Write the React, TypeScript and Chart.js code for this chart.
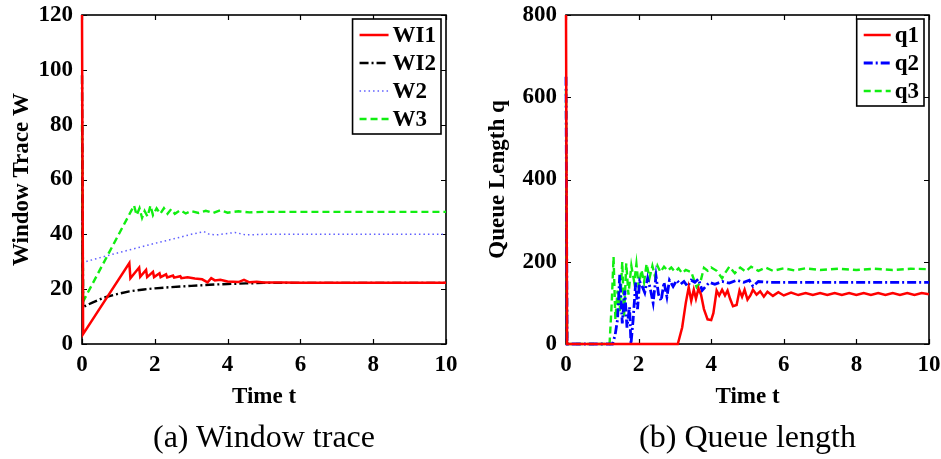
import { useEffect, useRef } from "react";
import { Chart, registerables } from "chart.js";

Chart.register(...registerables);

const FONT = "'Liberation Serif', 'Times New Roman', Times, serif";

// ---------- (a) Window trace ----------
const tWI1 = [0, 0.03, 1.3, 1.33, 1.57, 1.6, 1.76, 1.79, 1.95, 1.98, 2.13, 2.16, 2.31, 2.34, 2.5, 2.53, 2.7, 2.73, 2.9, 3.1, 3.3, 3.45, 3.55, 3.65, 3.8, 4.0, 4.3, 4.45, 4.6, 4.8, 5.0, 5.5, 6, 7, 8, 9, 10];
const WI1 = [120, 3.6, 29.5, 24.0, 27.9, 24.5, 27.0, 24.4, 26.3, 24.4, 25.8, 24.4, 25.4, 24.3, 25.0, 24.2, 24.7, 24.0, 24.3, 23.9, 23.6, 22.5, 24.0, 23.2, 23.4, 22.8, 22.6, 23.4, 22.5, 22.7, 22.4, 22.4, 22.3, 22.3, 22.3, 22.3, 22.3];

const tWI2 = [0, 0.03, 0.3, 0.6, 0.9, 1.3, 1.7, 2.0, 2.4, 3.0, 3.5, 4.0, 4.5, 5, 6, 10];
const WI2 = [98, 13.5, 15.2, 16.9, 18.0, 19.2, 19.9, 20.3, 20.7, 21.2, 21.6, 21.9, 22.1, 22.3, 22.3, 22.3];

const tW2 = [0, 0.03, 0.5, 1.0, 1.5, 2.0, 2.5, 3.0, 3.35, 3.5, 3.7, 4.0, 4.2, 4.5, 5, 6, 7, 8, 9, 10];
const W2 = [45, 29.8, 31.5, 33.3, 35.0, 36.7, 38.3, 40.0, 41.0, 40.0, 39.8, 40.3, 40.7, 39.8, 40.0, 40.0, 40.0, 40.0, 40.0, 40.0];

const tW3 = [0, 0.03, 1.43, 1.5, 1.58, 1.65, 1.72, 1.8, 1.88, 1.95, 2.05, 2.15, 2.25, 2.35, 2.45, 2.55, 2.7, 2.85, 3.0, 3.2, 3.4, 3.6, 3.8, 4.0, 4.3, 4.6, 5, 6, 7, 8, 9, 10];
const W3 = [80, 15.5, 50.5, 47, 49.5, 46, 48.5, 46.5, 50.5, 47, 49.5, 47.5, 49.5, 47.5, 49.2, 47.5, 48.8, 47.6, 48.5, 47.8, 48.6, 47.8, 48.8, 47.9, 48.4, 48.0, 48.2, 48.2, 48.2, 48.2, 48.2, 48.2];

// ---------- (b) Queue length ----------
const tQ1 = [0, 0.03, 3.08, 3.2, 3.3, 3.38, 3.45, 3.52, 3.58, 3.65, 3.72, 3.8, 3.9, 4.0, 4.06, 4.15, 4.22, 4.3, 4.38, 4.45, 4.52, 4.6, 4.7, 4.78, 4.85, 4.92, 5.0, 5.08, 5.15, 5.25, 5.35, 5.45, 5.55, 5.7, 5.85, 6.0, 6.2, 6.4, 6.6, 6.8, 7.0, 7.2, 7.4, 7.6, 7.8, 8.0, 8.2, 8.4, 8.6, 8.8, 9.0, 9.2, 9.4, 9.6, 9.8, 10];
const Q1 = [800, 0, 0, 40, 100, 138, 105, 132, 110, 135, 120, 85, 60, 58, 75, 130, 118, 132, 118, 130, 110, 92, 95, 130, 115, 132, 108, 118, 132, 120, 128, 115, 127, 117, 126, 118, 125, 119, 124, 119, 124, 119, 124, 119, 124, 119, 124, 119, 124, 119, 124, 119, 124, 119, 124, 121];

const tQ2 = [0, 0.03, 1.28, 1.35, 1.42, 1.48, 1.55, 1.62, 1.68, 1.75, 1.79, 1.85, 1.92, 1.97, 2.03, 2.1, 2.17, 2.25, 2.32, 2.4, 2.48, 2.55, 2.62, 2.7, 2.78, 2.85, 2.95, 3.05, 3.15, 3.25, 3.35, 3.45, 3.55, 3.65, 3.75, 3.85, 3.95, 4.1, 4.3, 4.5, 4.7, 4.9, 5.05, 5.15, 5.3, 5.6, 6, 7, 8, 9, 10];
const Q2 = [650, 0, 0, 20, 60, 168, 50, 130, 40, 90, 0, 60, 150, 85, 152, 140, 125, 160, 135, 100, 165, 120, 105, 150, 115, 155, 140, 155, 145, 152, 140, 155, 150, 158, 130, 140, 150, 145, 152, 148, 155, 150, 155, 140, 152, 150, 150, 150, 150, 150, 150];

const tQ3 = [0, 0.03, 1.2, 1.26, 1.31, 1.36, 1.42, 1.48, 1.55, 1.6, 1.66, 1.72, 1.8, 1.88, 1.94, 2.0, 2.08, 2.15, 2.22, 2.3, 2.38, 2.45, 2.52, 2.6, 2.7, 2.8, 2.9, 3.0, 3.1, 3.2, 3.3, 3.45, 3.6, 3.7, 3.8, 3.9, 4.0, 4.15, 4.3, 4.4, 4.5, 4.65, 4.8, 4.95, 5.1, 5.3, 5.5, 5.7, 6.0, 6.3, 6.6, 7, 7.5, 8, 8.5, 9, 9.5, 10];
const Q3 = [620, 0, 0, 100, 212, 60, 130, 80, 200, 65, 196, 120, 190, 150, 195, 140, 180, 150, 195, 160, 190, 165, 190, 175, 188, 178, 186, 176, 184, 172, 180, 175, 138, 150, 185, 178, 186, 178, 160, 175, 188, 172, 186, 176, 188, 178, 186, 178, 184, 179, 184, 180, 183, 180, 183, 180, 183, 182];

// ---------- ticks & labels ----------
const timeTicks = [0, 2, 4, 6, 8, 10];
const windowTicks = [0, 20, 40, 60, 80, 100, 120];
const queueTicks = [0, 200, 400, 600, 800];

function pts(t: number[], v: number[]) {
  return t.map((x, i) => ({ x, y: v[i] }));
}

const boldFont = { family: FONT, size: 23, weight: "bold" as const };

const framePlugin = {
  id: "matlabFrame",
  beforeDatasetsDraw(chart: any) {
    const { ctx, chartArea } = chart;
    const { left, right, top, bottom } = chartArea;
    const sx = chart.scales.x;
    const sy = chart.scales.y;
    ctx.save();
    ctx.strokeStyle = "#000";
    ctx.lineWidth = 1.2;
    ctx.setLineDash([]);
    const tl = 5;
    ctx.beginPath();
    sx.ticks.forEach((tk: any) => {
      const px = Math.round(sx.getPixelForValue(tk.value)) + 0.5;
      ctx.moveTo(px, bottom);
      ctx.lineTo(px, bottom - tl);
      ctx.moveTo(px, top);
      ctx.lineTo(px, top + tl);
    });
    sy.ticks.forEach((tk: any) => {
      const py = Math.round(sy.getPixelForValue(tk.value)) + 0.5;
      ctx.moveTo(left, py);
      ctx.lineTo(left + tl, py);
      ctx.moveTo(right, py);
      ctx.lineTo(right - tl, py);
    });
    ctx.stroke();
    ctx.lineWidth = 1.6;
    ctx.strokeRect(left, top, right - left, bottom - top);
    ctx.restore();
  },
  afterDatasetsDraw(chart: any, _args: any, opts: any) {
    const { ctx, chartArea } = chart;
    const { right, top } = chartArea;
    ctx.save();
    const ds = chart.data.datasets;
    ctx.font = `bold 23px ${FONT}`;
    let maxW = 0;
    ds.forEach((d: any) => {
      maxW = Math.max(maxW, ctx.measureText(d.label).width);
    });
    const padL = 7, lineLen = opts.lineLen, gap = 4, padR = 5, rowH = 28;
    const w = padL + lineLen + gap + maxW + padR;
    const h = ds.length * rowH + 3;
    const bx = right - 5 - w;
    const by = top + 4;
    ctx.fillStyle = "#fff";
    ctx.fillRect(bx, by, w, h);
    ctx.lineWidth = 1.6;
    ctx.strokeStyle = "#000";
    ctx.setLineDash([]);
    ctx.strokeRect(bx, by, w, h);
    ds.forEach((d: any, i: number) => {
      const cy = by + 2 + rowH / 2 + i * rowH;
      ctx.beginPath();
      ctx.strokeStyle = d.borderColor;
      ctx.lineWidth = d.borderWidth;
      ctx.setLineDash(d.borderDash || []);
      ctx.moveTo(bx + padL, cy);
      ctx.lineTo(bx + padL + lineLen, cy);
      ctx.stroke();
      ctx.setLineDash([]);
      ctx.fillStyle = "#000";
      ctx.textBaseline = "middle";
      ctx.textAlign = "left";
      ctx.fillText(d.label, bx + padL + lineLen + gap, cy + 1);
    });
    ctx.restore();
  },
};

function makeOptions(cfg: {
  yMax: number;
  yTicks: number[];
  yTitle: string;
  yWidth: number;
  yTitlePad: number;
  padRight: number;
  lineLen: number;
}) {
  return {
    responsive: false,
    animation: false as const,
    devicePixelRatio: 1,
    layout: { padding: { left: 0, right: cfg.padRight, top: 15, bottom: 0 } },
    elements: { point: { radius: 0 }, line: { tension: 0 } },
    datasets: { line: { clip: 3 } },
    plugins: {
      legend: { display: false },
      tooltip: { enabled: false },
      matlabFrame: { lineLen: cfg.lineLen },
    },
    scales: {
      x: {
        type: "linear" as const,
        min: 0,
        max: 10,
        afterBuildTicks(s: any) {
          s.ticks = timeTicks.map((v) => ({ value: v }));
        },
        afterFit(s: any) {
          s.height = 76;
          s.paddingLeft = 0;
          s.paddingRight = 0;
        },
        grid: { display: false, drawTicks: false },
        border: { display: false },
        ticks: { font: boldFont, color: "#000", padding: 7, maxRotation: 0, autoSkip: false },
        title: { display: true, text: "Time t", font: boldFont, color: "#000", padding: { top: 0, bottom: 9 } },
      },
      y: {
        type: "linear" as const,
        min: 0,
        max: cfg.yMax,
        afterBuildTicks(s: any) {
          s.ticks = cfg.yTicks.map((v) => ({ value: v }));
        },
        afterFit(s: any) {
          s.width = cfg.yWidth;
          s.paddingTop = 0;
          s.paddingBottom = 0;
        },
        grid: { display: false, drawTicks: false },
        border: { display: false },
        ticks: { font: boldFont, color: "#000", padding: 9, autoSkip: false },
        title: { display: true, text: cfg.yTitle, font: boldFont, color: "#000", padding: { top: cfg.yTitlePad, bottom: 0 } },
      },
    },
  };
}

function WindowChart() {
  const ref = useRef<HTMLCanvasElement>(null);
  useEffect(() => {
    const chart = new Chart(ref.current!, {
      type: "line",
      data: {
        datasets: [
          { label: "WI1", data: pts(tWI1, WI1), borderColor: "#ff0000", borderWidth: 2.5, borderDash: [] },
          { label: "WI2", data: pts(tWI2, WI2), borderColor: "#000000", borderWidth: 2.4, borderDash: [9, 3, 2, 3] },
          { label: "W2", data: pts(tW2, W2), borderColor: "#5f5fff", borderWidth: 1.5, borderDash: [1.5, 3] },
          { label: "W3", data: pts(tW3, W3), borderColor: "#11ee11", borderWidth: 2.4, borderDash: [7, 4] },
        ],
      },
      options: makeOptions({
        yMax: 120,
        yTicks: windowTicks,
        yTitle: "Window Trace W",
        yWidth: 82,
        yTitlePad: 8,
        padRight: 24,
        lineLen: 29,
      }) as any,
      plugins: [framePlugin],
    });
    return () => chart.destroy();
  }, []);
  return <canvas ref={ref} width={470} height={420} style={{ position: "absolute", left: 0, top: 0 }} />;
}

function QueueChart() {
  const ref = useRef<HTMLCanvasElement>(null);
  useEffect(() => {
    const chart = new Chart(ref.current!, {
      type: "line",
      data: {
        datasets: [
          { label: "q1", data: pts(tQ1, Q1), borderColor: "#ff0000", borderWidth: 2.5, borderDash: [] },
          { label: "q2", data: pts(tQ2, Q2), borderColor: "#0000ff", borderWidth: 2.8, borderDash: [9, 3, 2, 3] },
          { label: "q3", data: pts(tQ3, Q3), borderColor: "#11ee11", borderWidth: 2.4, borderDash: [7, 4] },
        ],
      },
      options: makeOptions({
        yMax: 800,
        yTicks: queueTicks,
        yTitle: "Queue Length q",
        yWidth: 96,
        yTitlePad: 14,
        padRight: 12,
        lineLen: 27,
      }) as any,
      plugins: [framePlugin],
    });
    return () => chart.destroy();
  }, []);
  return <canvas ref={ref} width={471} height={420} style={{ position: "absolute", left: 470, top: 0 }} />;
}

const captionStyle = {
  position: "absolute" as const,
  top: 420,
  fontFamily: FONT,
  fontSize: 32,
  lineHeight: "32px",
  textAlign: "center" as const,
  whiteSpace: "nowrap" as const,
  color: "#000",
};

export default function App() {
  return (
    <div style={{ position: "fixed", left: 0, top: 0, width: 941, height: 459, background: "#fff", overflow: "hidden" }}>
      <WindowChart />
      <QueueChart />
      <div style={{ ...captionStyle, left: 0, width: 528 }}>(a) Window trace</div>
      <div style={{ ...captionStyle, left: 566, width: 363 }}>(b) Queue length</div>
    </div>
  );
}
